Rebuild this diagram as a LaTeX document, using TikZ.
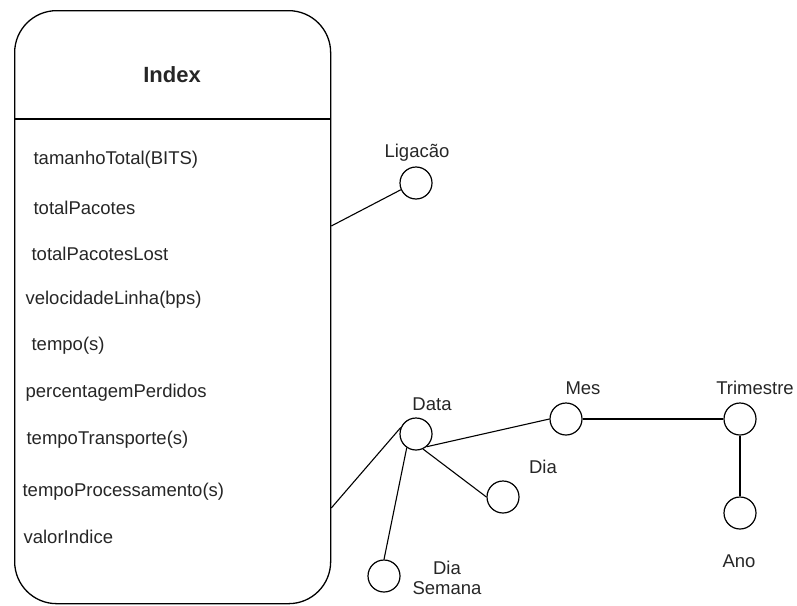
\documentclass[tikz,border=0pt]{standalone}
\usepackage{fontspec}
\setmainfont{Liberation Sans}
\begin{document}
\begin{tikzpicture}[x=1pt,y=-1pt,
  line width=1.2pt,
  every node/.style={font=\fontsize{18.5}{21}\selectfont, text=black!85},
  attr/.style={anchor=west, inner sep=0pt},
  lbl/.style={inner sep=0pt},
  ent/.style={circle, draw, minimum size=32pt, inner sep=0pt},
  conn/.style={draw, line width=1.1pt}]
\useasboundingbox (0,0) rectangle (797,605);
\node[draw, rounded corners=42pt, minimum width=316pt, minimum height=593pt, anchor=north west, line width=1.3pt] (index) at (14,10) {};
\draw[line width=1.3pt] (index.west |- 0,119) coordinate (dl) -- (index.east |- 0,119) coordinate (dr);
\node[lbl, font=\fontsize{22}{25}\selectfont\bfseries] (title) at (172,75) {Index};
\node[attr] (a1) at (33,160) {tamanhoTotal(BITS)};
\node[attr] (a2) at (33,208) {totalPacotes};
\node[attr] (a3) at (31,254) {totalPacotesLost};
\node[attr] (a4) at (25,300) {velocidadeLinha(bps)};
\node[attr] (a5) at (31,346) {tempo(s)};
\node[attr] (a6) at (25,393) {percentagemPerdidos};
\node[attr] (a7) at (26,440) {tempoTransporte(s)};
\node[attr] (a8) at (22,492) {tempoProcessamento(s)};
\node[attr] (a9) at (23,537) {valorIndice};

\node[ent] (lig) at (416,183) {};
\node[lbl] (liglbl) at (417,153) {Ligacão};
\node[ent] (data) at (416,434) {};
\node[lbl] (datalbl) at (432,404) {Data};
\node[ent] (mes) at (566,419) {};
\node[lbl] (meslbl) at (583,388) {Mes};
\node[ent] (tri) at (740,419) {};
\node[lbl] (trilbl) at (755,388) {Trimestre};
\node[ent] (ano) at (740,513) {};
\node[lbl] (anolbl) at (739,561) {Ano};
\node[ent] (dia) at (503,497) {};
\node[lbl] (dialbl) at (543,467) {Dia};
\node[ent] (dsem) at (384,576) {};
\node[lbl, align=center] (dsemlbl) at (447,578) {Dia\\[-1pt]Semana};

\coordinate (c1) at (0,226);
\coordinate (c2) at (0,508);
\draw[conn] (index.east |- c1) -- (lig.204);
\draw[conn] (index.east |- c2) -- (data.157);
\draw[conn] (data.-50) -- (mes.west);
\draw[conn] (data.-65) -- (dia.west);
\draw[conn] (data.-124) -- (dsem.north);
\draw[conn] (mes.east) -- (tri.west);
\draw[conn] (tri.south) -- (ano.north);
\end{tikzpicture}
\end{document}
